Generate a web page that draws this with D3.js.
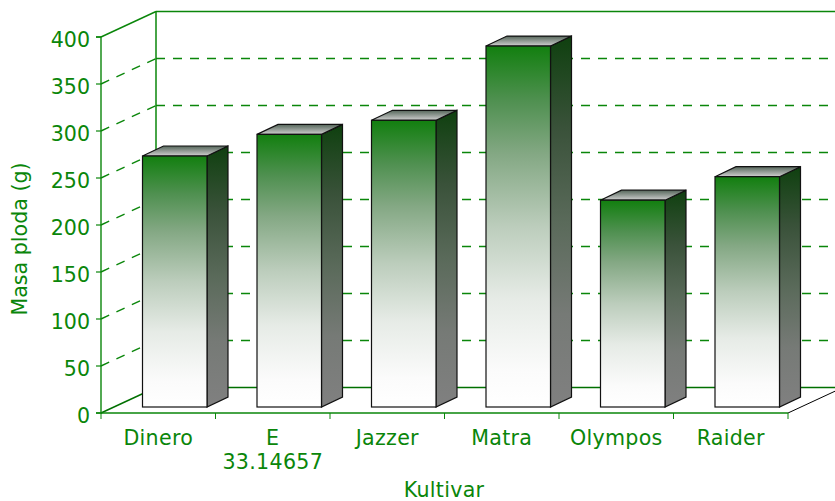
<!DOCTYPE html>
<html>
<head>
<meta charset="utf-8">
<script src="https://d3js.org/d3.v7.min.js"></script>
<style>
  html, body { margin: 0; padding: 0; background: #fff; }
  svg { display: block; }
  text { font-family: "DejaVu Sans", sans-serif; fill: #0a860a; font-size: 20.6px; }
  .wide { letter-spacing: 0.3px; }
</style>
</head>
<body>
<div id="chart"></div>
<script>
var categories = ["Dinero", "E|33.14657", "Jazzer", "Matra", "Olympos", "Raider"];
var values = [267, 290, 305, 384, 220, 245];
var yTicks = [0, 50, 100, 150, 200, 250, 300, 350, 400];

var width = 835, height = 501;
var green = "#0a860a";
var left = 101, right = 788, floorY = 413, topY = 37;
var depthX = 55, depthY = -25.5;     // back wall offset
var barDepthX = 21, barDepthY = -10; // bar box offset
var barFront = 6;                    // bar base sits above the axis

var svg = d3.select("#chart").append("svg")
  .attr("width", width).attr("height", height);

var x = d3.scaleBand().domain(categories).range([left, right]);
var y = d3.scaleLinear().domain([0, 400]).range([floorY, topY]);

var defs = svg.append("defs");
function gradient(id, stops) {
  var g = defs.append("linearGradient").attr("id", id)
    .attr("x1", 0).attr("y1", 0).attr("x2", 0).attr("y2", 1);
  stops.forEach(function (s) {
    g.append("stop").attr("offset", s[0]).attr("stop-color", s[1]);
  });
}
gradient("front", [[0, "#127f0f"], [0.15, "#4f9050"], [0.3, "#84a884"], [0.5, "#bccdbc"],
  [0.7, "#e6ebe6"], [0.9, "#fbfbfb"], [1, "#ffffff"]]);
gradient("side", [[0, "#0f400f"], [0.25, "#3a523a"], [0.5, "#5a6a5a"], [0.75, "#767a76"], [1, "#808080"]]);
gradient("cap", [[0, "#55665a"], [1, "#d0d0d0"]]);

// back wall and floor
var wall = svg.append("g").attr("fill", "none");
yTicks.forEach(function (t) {
  var py = y(t);
  if (t > 0) {
    wall.append("line")
      .attr("x1", left).attr("y1", py)
      .attr("x2", left + depthX).attr("y2", py + depthY)
      .attr("stroke", green).attr("stroke-width", 1.4)
      .attr("stroke-dasharray", t == 400 ? null : "9 8");
    wall.append("line")
      .attr("x1", left + depthX).attr("y1", py + depthY)
      .attr("x2", width).attr("y2", py + depthY)
      .attr("stroke", green).attr("stroke-width", 1.4)
      .attr("stroke-dasharray", t == 400 ? null : "9 8");
  }
});
wall.append("line")
  .attr("x1", left + depthX).attr("y1", y(400) + depthY)
  .attr("x2", left + depthX).attr("y2", floorY + depthY)
  .attr("stroke", green).attr("stroke-width", 1.5);
wall.append("line")
  .attr("x1", left).attr("y1", floorY)
  .attr("x2", left + depthX).attr("y2", floorY + depthY)
  .attr("stroke", "#007000").attr("stroke-width", 1.4);
wall.append("line")
  .attr("x1", left + depthX).attr("y1", floorY + depthY)
  .attr("x2", width).attr("y2", floorY + depthY)
  .attr("stroke", "#007000").attr("stroke-width", 1.4);
wall.append("line")
  .attr("x1", right).attr("y1", floorY)
  .attr("x2", right + depthX).attr("y2", floorY + depthY)
  .attr("stroke", "#000");

// bars
var barW = 64.5;
var bars = svg.append("g").selectAll("g")
  .data(categories)
  .enter().append("g")
  .attr("transform", function (d) {
    return "translate(" + (x(d) + x.bandwidth() / 2 + 16.5 - barW / 2) + ",0)";
  });

var barBottom = floorY - barFront;
function barTop(i) { return y(values[i]) - barFront; }

bars.append("path")
  .attr("fill", "url(#side)").attr("stroke", "#111").attr("stroke-width", 1.2)
  .attr("d", function (d, i) {
    var t = barTop(i);
    return "M" + barW + "," + t + "L" + (barW + barDepthX) + "," + (t + barDepthY) +
      "L" + (barW + barDepthX) + "," + (barBottom + barDepthY) +
      "L" + barW + "," + barBottom + "Z";
  });
bars.append("path")
  .attr("fill", "url(#cap)").attr("stroke", "#111").attr("stroke-width", 1.2)
  .attr("d", function (d, i) {
    var t = barTop(i);
    return "M0," + t + "L" + barDepthX + "," + (t + barDepthY) +
      "L" + (barW + barDepthX) + "," + (t + barDepthY) +
      "L" + barW + "," + t + "Z";
  });
bars.append("rect")
  .attr("x", 0).attr("width", barW)
  .attr("y", function (d, i) { return barTop(i); })
  .attr("height", function (d, i) { return barBottom - barTop(i); })
  .attr("fill", "url(#front)").attr("stroke", "#111").attr("stroke-width", 1.2);

// axes
var yAxis = d3.axisLeft(y).tickValues(yTicks).tickSize(5).tickPadding(6).offset(0);
var gy = svg.append("g").attr("transform", "translate(" + left + ",0)").call(yAxis);
var xAxis = d3.axisBottom(x).tickSize(0).tickFormat("").offset(0);
var gx = svg.append("g").attr("transform", "translate(0," + floorY + ")").call(xAxis);

[gy, gx].forEach(function (g) {
  g.selectAll(".domain").attr("stroke", green).attr("stroke-width", 1.4);
  g.selectAll(".tick line").attr("stroke", green).attr("stroke-width", 1.2);
});
gy.selectAll("text").attr("dy", 9.5).attr("fill", green).attr("font-size", null);

// boundary ticks between the categories
gx.selectAll(".edge")
  .data(categories.concat(["end"]))
  .enter().append("line")
  .attr("class", "edge")
  .attr("x1", function (d, i) { return left + i * x.step(); })
  .attr("x2", function (d, i) { return left + i * x.step(); })
  .attr("y1", 0).attr("y2", 6)
  .attr("stroke", green);

// category labels, some over two lines
gx.selectAll(".tick").each(function (d) {
  var t = d3.select(this).append("text")
    .attr("class", "wide")
    .attr("text-anchor", "middle");
  d.split("|").forEach(function (part, i) {
    t.append("tspan").attr("x", 0).attr("y", 32 + i * 24).text(part);
  });
});

svg.append("text")
  .attr("transform", "translate(27,239) rotate(-90)")
  .attr("text-anchor", "middle")
  .text("Masa ploda (g)");
svg.append("text")
  .attr("class", "wide")
  .attr("x", 444).attr("y", 497)
  .attr("text-anchor", "middle")
  .text("Kultivar");
</script>
</body>
</html>
